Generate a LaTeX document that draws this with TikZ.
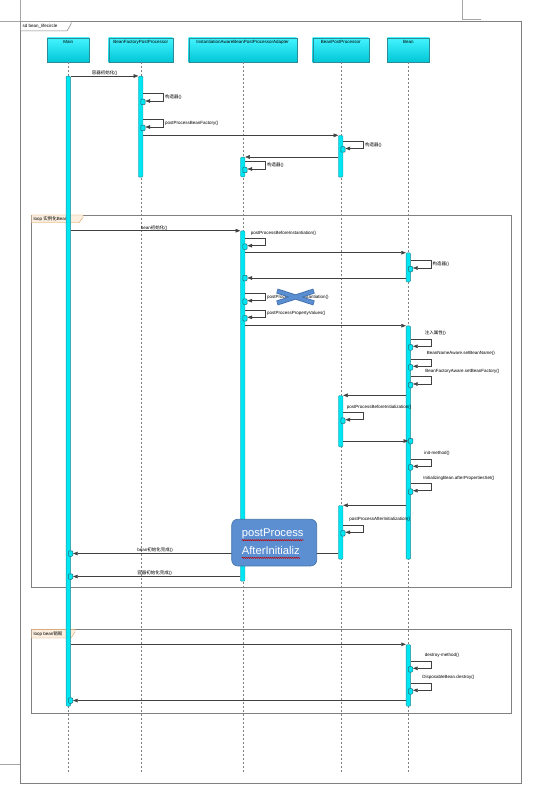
\documentclass[tikz,border=0pt]{standalone}
\usepackage{fontspec}
\setmainfont{Liberation Sans}
\newfontfamily\cjk{Noto Sans CJK SC}
\usetikzlibrary{arrows.meta, positioning, calc, decorations.pathmorphing}

\definecolor{actfill}{HTML}{00E5F2}
\definecolor{actline}{HTML}{2A8C96}
\definecolor{headtop}{HTML}{44F4FF}
\definecolor{headbot}{HTML}{00C6D6}
\definecolor{frameg}{HTML}{808080}
\definecolor{tabfill}{HTML}{FCEFDF}
\definecolor{tabline}{HTML}{D8A060}
\definecolor{callfill}{HTML}{5B8FD2}
\definecolor{callline}{HTML}{4472A8}
\definecolor{xedge}{HTML}{3F6FAE}
\definecolor{xfill}{HTML}{5A8ED0}

\begin{document}
\begin{tikzpicture}[x=1pt, y=-1pt,
	font=\fontsize{4.5}{5}\selectfont,
	head/.style = {draw=actline, top color=headtop, bottom color=headbot, minimum height=24.5pt, inner sep=0pt},
	act/.style = {draw=actline, fill=actfill, minimum width=4.5pt, inner sep=0pt, anchor=north, rounded corners=1pt, line width=0.4pt},
	sub/.style = {act, draw=actline!80!black, line width=0.5pt, minimum width=4.4pt, minimum height=5.5pt, anchor=center},
	life/.style = {draw=frameg, dash pattern=on 2pt off 2pt, line width=0.4pt},
	msg/.style = {draw=black!75, line width=0.45pt, -{Triangle[length=4.6pt, width=3.6pt]}},
	lbl/.style = {inner sep=0.5pt, font=\fontsize{4.5}{5}\selectfont},
	frm/.style = {draw=frameg, line width=0.7pt},
	tab/.style = {draw=tabline, fill=tabfill, line width=0.4pt},
	squig/.style = {draw=red!75!black, line width=0.5pt, decorate, decoration={snake, amplitude=0.6pt, segment length=2pt}}
	]
	\fill[white] (0,0) rectangle (540,794);
	\useasboundingbox (0,0) rectangle (540,794);
%
	\draw[frameg!70, line width=0.5pt] (0,20.8) -- (20.6,20.8) (20.6,0) -- (20.6,21.3)
		(462,0) -- (462,19.6) -- (481,19.6) (0,764.6) -- (20.6,764.6);
	\draw[frm] (20.6,21.3) rectangle (521.6,783.5);
	\draw[frm, fill=white, line width=0.5pt] (20.6,21.3) -- (71,21.3) -- (71,24) -- (67,31) -- (20.6,31) -- cycle;
	\node[lbl, anchor=west] (title) at (22,26.2) {sd bean\_lifecircle};
%
	\draw[frm] (31.7,215) rectangle (511,587.7);
	\draw[tab] (31.7,215) -- (83,215) -- (83,217.5) -- (79,222.8) -- (31.7,222.8) -- cycle;
	\node[lbl, anchor=west] (loopA) at (33,218.9) {loop {\cjk 实例化}Bean};
	\draw[frm] (31.7,629.3) rectangle (511.7,713.3);
	\draw[tab] (31.7,629.3) -- (75,629.3) -- (75,632) -- (71,638) -- (31.7,638) -- cycle;
	\node[lbl, anchor=west] (loopB) at (33,633.6) {loop bean{\cjk 销毁}};
%
	\foreach \n/\x/\w/\t in {hMain/68.3/42/Main, hBFPP/140.7/64/BeanFactoryPostProcessor,
		hIA/242.7/108/InstantiationAwareBeanPostProcessorAdapter, hBPP/340.7/56/BeanPostProcessor, hBean/408.3/42/Bean}
	{
		\node[head, minimum width=\w pt, label={[lbl, anchor=north, yshift=-2pt]north:\t}] (\n) at (\x,50) {};
		\coordinate (e\n) at (\x,772);
		\draw[life] (\n.south) -- (e\n);
	}
%
	\foreach \n/\x/\y/\h in {aMain/68.3/76/630, aBFPP/140.7/76/101, aBPP1/340.7/135.3/41.7, aIA1/242.7/157/19.7,
		aIA2/242.7/230.7/350.3, aBean1/408.3/252.7/29, aBean2/408.3/325.7/233.3, aBPP2/340.7/395.3/51.4,
		aBPP3/340.7/505.3/53.7, aBean3/408.3/644.3/61.7}
		\node[act, minimum height=\h pt] (\n) at (\x,\y) {};
%
	\node[sub, xshift=2.3pt] (r1) at (aIA2 |- 0,278) {};
	\node[sub, xshift=2.3pt] (r2) at (aBean2 |- 0,441) {};
	\node[sub, xshift=2.3pt] (r3) at (aMain |- 0,553.5) {};
	\node[sub, xshift=2.3pt] (r4) at (aMain |- 0,576.5) {};
	\node[sub, xshift=2.3pt] (r5) at (aMain |- 0,700.5) {};
%
	\draw[msg] (aMain.north east) -- node[lbl, above] {{\cjk 容器初始化}()} (aBFPP.north west);
	\draw[msg] (aBFPP.east |- aBPP1.north) -- (aBPP1.north west);
	\draw[msg] (aBPP1.west |- aIA1.north) -- (aIA1.north east);
	\draw[msg] (aMain.east |- aIA2.north) -- node[lbl, pos=0.41, anchor=south west] {bean{\cjk 初始化}()} (aIA2.north west);
	\draw[msg] (aIA2.east |- aBean1.north) -- (aBean1.north west);
	\draw[msg] (aBean1.west |- r1) -- (r1.east);
	\draw[msg] (aIA2.east |- aBean2.north) -- (aBean2.north west);
	\draw[msg] (aBean2.west |- aBPP2.north) -- (aBPP2.north east);
	\draw[msg] (aBPP2.east |- r2) -- (r2.west);
	\draw[msg] (aBean2.west |- aBPP3.north) -- (aBPP3.north east);
	\draw[msg] (aBPP3.west |- r3) -- node[lbl, pos=0.76, anchor=south west] {bean{\cjk 初始化完成}()} (r3.east);
	\draw[msg] (aIA2.west |- r4) -- node[lbl, pos=0.62, anchor=south west] {{\cjk 容器初始化完成}()} (r4.east);
	\draw[msg] (aMain.east |- aBean3.north) -- (aBean3.north west);
	\draw[msg] (aBean3.west |- r5) -- (r5.east);
%
	\foreach \b/\y/\t [count=\i] in {aBFPP/102/{\cjk 构造器}(), aBFPP/128/postProcessBeanFactory(),
		aBPP1/149.5/{\cjk 构造器}(), aIA1/170/{\cjk 构造器}(), aIA2/301.7/postProcessAfterInstantiation(),
		aIA2/318.3/postProcessPropertyValues(), aBean1/269/{\cjk 构造器}()}
	{
		\node[sub, xshift=2.3pt] (s\i) at (\b |- 0,\y) {};
		\draw[msg] (\b.east |- 0,\y-8.5) -- ++(20,0) -- node[lbl, anchor=west, xshift=1.2pt] {\t} ++(0,7.5) -- (s\i.east |- 0,\y-1);
	}
	\foreach \b/\y/\d/\t [count=\i] in {aIA2/246.7/5/postProcessBeforeInstantiation(), aBean2/347.3/13.5/{\cjk 注入属性}(),
		aBean2/367.3/15.5/BeanNameAware.setBeanName(), aBean2/385/14/BeanFactoryAware.setBeanFactory(),
		aBPP2/420.7/3/postProcessBeforeInitialization(), aBean2/467.3/12.8/init-method(),
		aBean2/491.7/12/InitializingBean.afterPropertiesSet(), aBPP3/533.3/5.4/postProcessAfterInitialization(),
		aBean3/669.3/13.5/destroy-method(), aBean3/691.3/11/DisposableBean.destroy()}
	{
		\node[sub, xshift=2.3pt] (u\i) at (\b |- 0,\y) {};
		\draw[msg] (\b.east |- 0,\y-8.5) node[lbl, anchor=south west, xshift=\d pt, yshift=2.5pt] {\t}
			-- ++(20,0) -- ++(0,7.5) -- (u\i.east |- 0,\y-1);
	}
%
	\draw[xedge, line width=5pt] (277,291) -- (314,303) (277,303) -- (314,291);
	\draw[xfill, line width=3.4pt] (277.5,291.2) -- (313.5,302.8) (277.5,302.8) -- (313.5,291.2);
%
	\node[draw=callline, fill=callfill, rounded corners=6pt, minimum width=85pt, minimum height=46.7pt,
		line width=0.6pt, inner sep=0pt] (call) at (274.2,542.6) {};
	\node[font=\fontsize{11.2}{12}\selectfont, text=white, anchor=base west, inner sep=0pt] (pp1) at (241.7,536.6) {postProcess};
	\node[font=\fontsize{11.2}{12}\selectfont, text=white, anchor=base west, inner sep=0pt] (pp2) at (241.7,554.2) {AfterInitializ};
	\draw[squig] ([yshift=-3.6pt]pp1.base west) -- ([yshift=-3.6pt]pp1.base east);
	\draw[squig] ([yshift=-3.6pt]pp2.base west) -- ([yshift=-3.6pt]pp2.base east);
\end{tikzpicture}
\end{document}
